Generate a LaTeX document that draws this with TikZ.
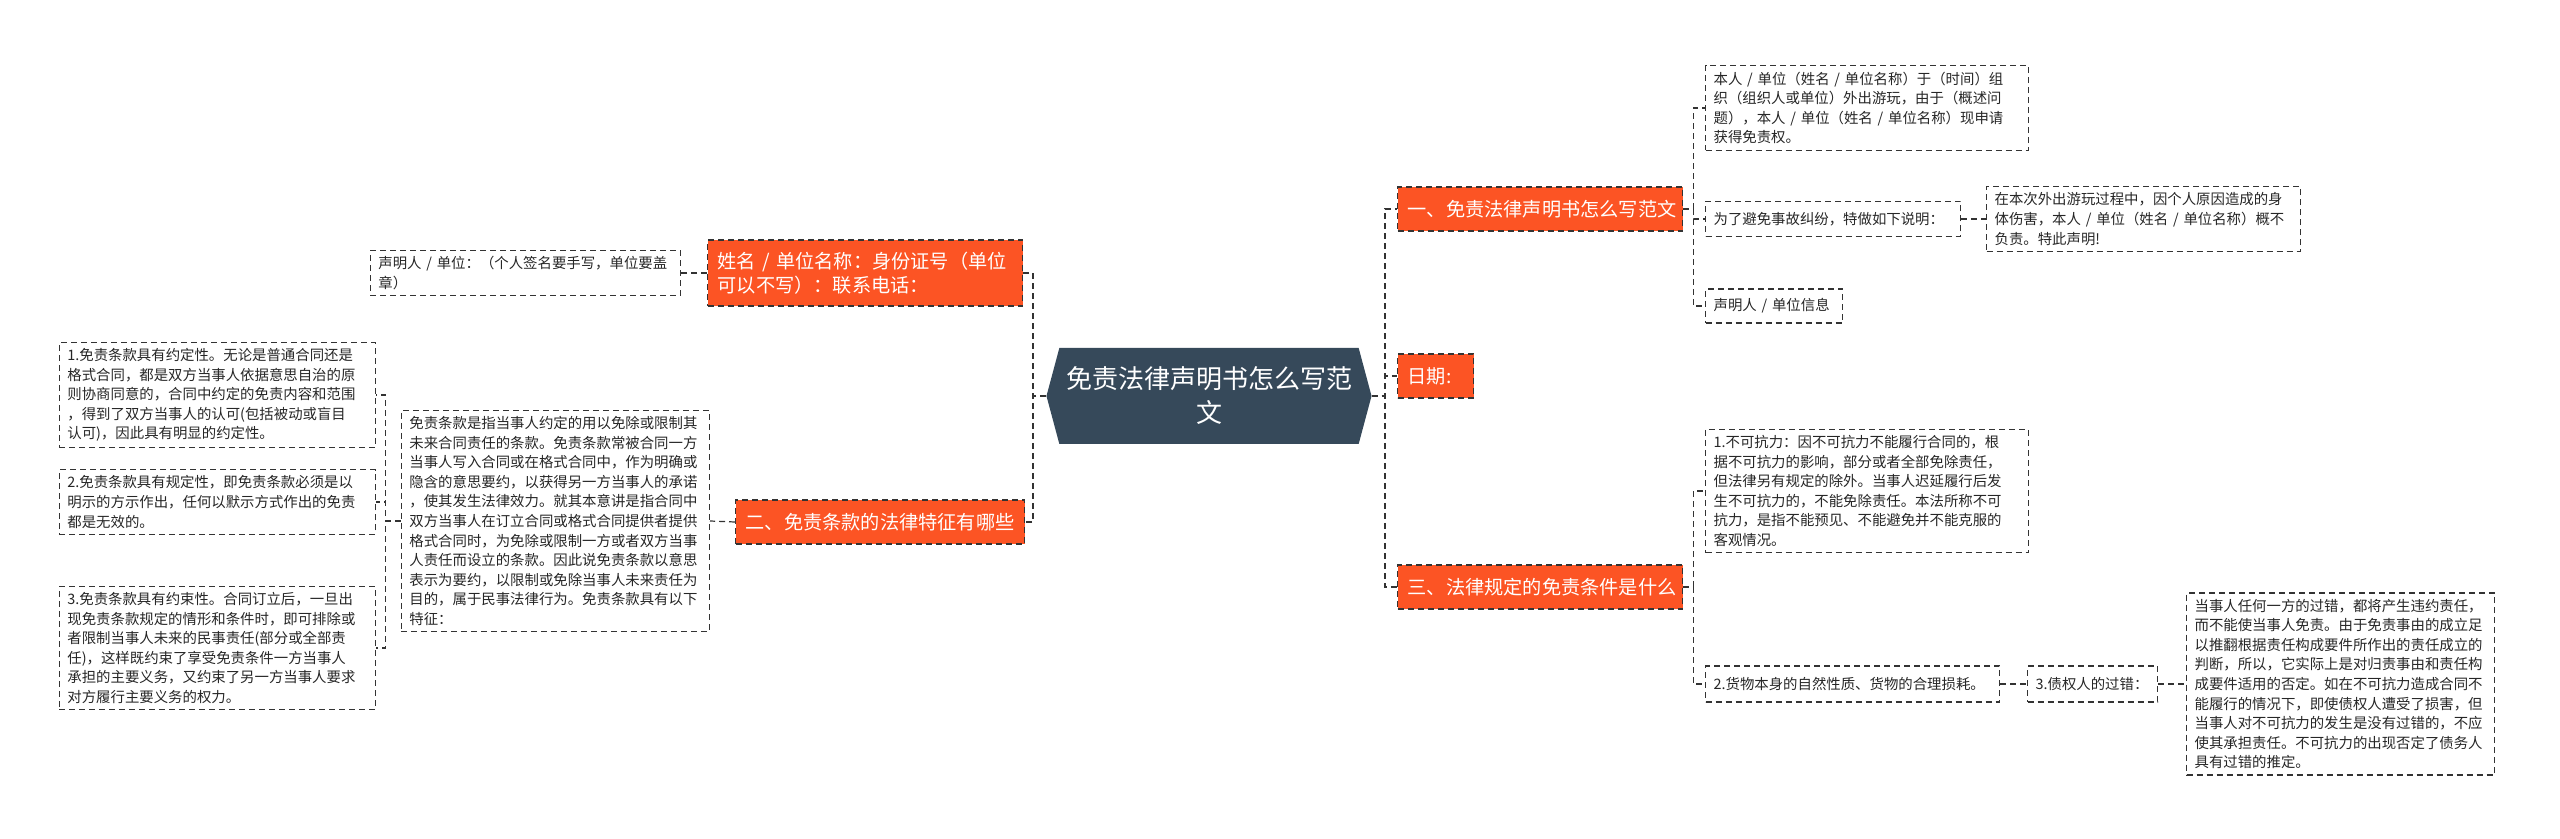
\documentclass[tikz,border=0pt]{standalone}
\usepackage{fontspec}
\setmainfont{Noto Sans CJK SC}
\usetikzlibrary{shapes.symbols}
\definecolor{mapred}{HTML}{FC5424}
\definecolor{mapslate}{HTML}{36495A}
\definecolor{mapline}{HTML}{333333}
\begin{document}
\begin{tikzpicture}[x=0.5pt,y=-0.5pt,
    link/.style={draw=mapline,line width=0.6pt,dash pattern=on 3pt off 2pt},
    leaf/.style={link,anchor=west,align=left,inner xsep=4pt,inner ysep=3pt,text=black!85,font=\fontsize{7.2}{9.8}\selectfont},
    topic/.style={link,fill=mapred,anchor=west,align=left,inner xsep=5pt,inner ysep=4pt,minimum height=22pt,text=white,font=\fontsize{9.6}{12}\selectfont},
    root/.style={signal,signal to=west and east,signal pointer angle=150,fill=mapslate,text=white,align=center,minimum width=162pt,minimum height=48pt,font=\fontsize{13}{17}\selectfont}]
    \useasboundingbox (0,0) rectangle (2560,839);
    \node[root] (root) at (1209,396) {免责法律声明书怎么写范\\文};

    \node[topic,text width=132.5pt] (t1) at (1397,209) {一、免责法律声明书怎么写范文};
    \node[topic,text width=28pt] (t2) at (1397,376) {日期:};
    \node[topic,text width=132.5pt] (t3) at (1397,587) {三、法律规定的免责条件是什么};
    \node[topic,text width=147.5pt,minimum height=33pt] (s1) at (707,273) {姓名 / 单位名称：身份证号（单位\\可以不写）：联系电话：};
    \node[topic,text width=134.5pt] (s2) at (735,522) {二、免责条款的法律特征有哪些};

    \node[leaf,text width=153.5pt] (a1) at (1705,108) {本人 / 单位（姓名 / 单位名称）于（时间）组\\织（组织人或单位）外出游玩，由于（概述问\\题），本人 / 单位（姓名 / 单位名称）现申请\\获得免责权。};
    \node[leaf,text width=119.5pt,minimum height=17.5pt] (a2) at (1705,219) {为了避免事故纠纷，特做如下说明：};
    \node[leaf,text width=149pt] (a4) at (1986,219) {在本次外出游玩过程中，因个人原因造成的身\\体伤害，本人 / 单位（姓名 / 单位名称）概不\\负责。特此声明!};
    \node[leaf,text width=60.5pt,minimum height=17pt] (a3) at (1705,306) {声明人 / 单位信息};
    \node[leaf,text width=153.5pt] (d1) at (1705,491) {1.不可抗力：因不可抗力不能履行合同的，根\\据不可抗力的影响，部分或者全部免除责任，\\但法律另有规定的除外。当事人迟延履行后发\\生不可抗力的，不能免除责任。本法所称不可\\抗力，是指不能预见、不能避免并不能克服的\\客观情况。};
    \node[leaf,text width=139pt,minimum height=18pt] (d2) at (1705,684) {2.货物本身的自然性质、货物的合理损耗。};
    \node[leaf,text width=57pt,minimum height=18pt] (d3) at (2027,684) {3.债权人的过错：};
    \node[leaf,text width=146pt] (d4) at (2186,684) {当事人任何一方的过错，都将产生违约责任，\\而不能使当事人免责。由于免责事由的成立足\\以推翻根据责任构成要件所作出的责任成立的\\判断，所以，它实际上是对归责事由和责任构\\成要件适用的否定。如在不可抗力造成合同不\\能履行的情况下，即使债权人遭受了损害，但\\当事人对不可抗力的发生是没有过错的，不应\\使其承担责任。不可抗力的出现否定了债务人\\具有过错的推定。};

    \node[leaf,text width=147pt,anchor=east] (b1) at (681,273) {声明人 / 单位：（个人签名要手写，单位要盖\\章）};
    \node[leaf,text width=146pt,anchor=east] (b2) at (710,521) {免责条款是指当事人约定的用以免除或限制其\\未来合同责任的条款。免责条款常被合同一方\\当事人写入合同或在格式合同中，作为明确或\\隐含的意思要约，以获得另一方当事人的承诺\\，使其发生法律效力。就其本意讲是指合同中\\双方当事人在订立合同或格式合同提供者提供\\格式合同时，为免除或限制一方或者双方当事\\人责任而设立的条款。因此说免责条款以意思\\表示为要约，以限制或免除当事人未来责任为\\目的，属于民事法律行为。免责条款具有以下\\特征：};
    \node[leaf,text width=150pt,anchor=east] (c1) at (376,395) {1.免责条款具有约定性。无论是普通合同还是\\格式合同，都是双方当事人依据意思自治的原\\则协商同意的，合同中约定的免责内容和范围\\，得到了双方当事人的认可(包括被动或盲目\\认可)，因此具有明显的约定性。};
    \node[leaf,text width=150pt,anchor=east] (c2) at (376,502) {2.免责条款具有规定性，即免责条款必须是以\\明示的方示作出，任何以默示方式作出的免责\\都是无效的。};
    \node[leaf,text width=150pt,anchor=east] (c3) at (376,648) {3.免责条款具有约束性。合同订立后，一旦出\\现免责条款规定的情形和条件时，即可排除或\\者限制当事人未来的民事责任(部分或全部责\\任)，这样既约束了享受免责条件一方当事人\\承担的主要义务，又约束了另一方当事人要求\\对方履行主要义务的权力。};

    \draw[link] (root.east) -- ++(13,0) |- (t1.west);
    \draw[link] (root.east) -- ++(13,0) |- (t2.west);
    \draw[link] (root.east) -- ++(13,0) |- (t3.west);
    \draw[link] (root.west) -- ++(-13,0) |- (s1.east);
    \draw[link] (root.west) -- ++(-13,0) |- (s2.east);
    \draw[link] (t1.east) -- ++(10,0) |- (a1.west);
    \draw[link] (t1.east) -- ++(10,0) |- (a2.west);
    \draw[link] (t1.east) -- ++(10,0) |- (a3.west);
    \draw[link] (a2.east) -- (a4.west);
    \draw[link] (t3.east) -- ++(10,0) |- (d1.west);
    \draw[link] (t3.east) -- ++(10,0) |- (d2.west);
    \draw[link] (d2.east) -- (d3.west);
    \draw[link] (d3.east) -- (d4.west);
    \draw[link] (s1.west) -- (b1.east);
    \draw[link] (s2.west) -- (b2.east);
    \draw[link] (b2.west) -- ++(-15,0) |- (c1.east);
    \draw[link] (b2.west) -- ++(-15,0) |- (c2.east);
    \draw[link] (b2.west) -- ++(-15,0) |- (c3.east);
\end{tikzpicture}
\end{document}
